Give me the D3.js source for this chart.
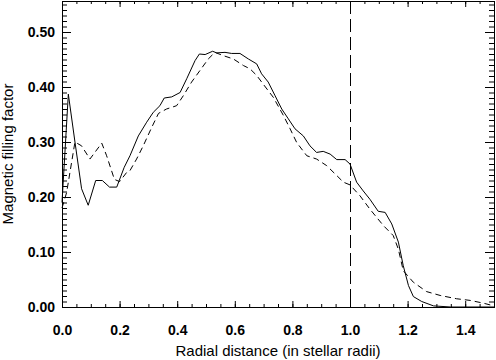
<!DOCTYPE html>
<html>
<head>
<meta charset="utf-8">
<script src="https://cdn.jsdelivr.net/npm/d3@7"></script>
<style>
  body { margin: 0; background: #fff; }
  svg { display: block; }
  .tick text { font-family: "Liberation Sans", Arial, sans-serif; font-size: 14px; font-weight: bold; fill: #000; }
  .title { font-family: "Liberation Sans", Arial, sans-serif; font-size: 15px; fill: #000; }
</style>
</head>
<body>
<div id="chart"></div>
<script>
var width = 496;
var height = 360;

var margin = {top: 1, right: 2, bottom: 53, left: 62};
var chartWidth = width - margin.left - margin.right;
var chartHeight = height - margin.top - margin.bottom;

// solid curve
var solidX = [0, 0.022, 0.045, 0.068, 0.091, 0.117, 0.140, 0.165, 0.19, 0.216, 0.236, 0.265, 0.294, 0.317, 0.34, 0.355,
  0.381, 0.41, 0.433, 0.462, 0.477, 0.497, 0.523, 0.537, 0.566, 0.589, 0.618, 0.647, 0.676, 0.693, 0.716, 0.74,
  0.763, 0.786, 0.809, 0.838, 0.861, 0.884, 0.907, 0.931, 0.954, 0.983, 1.0, 1.023, 1.046, 1.069, 1.098, 1.122,
  1.145, 1.168, 1.185, 1.203, 1.22, 1.249, 1.29, 1.35, 1.5];
var solidY = [0.19, 0.387, 0.30, 0.215, 0.185, 0.23, 0.23, 0.218, 0.218, 0.254, 0.275, 0.311, 0.336, 0.354, 0.366, 0.38,
  0.382, 0.39, 0.415, 0.448, 0.46, 0.459, 0.465, 0.462, 0.463, 0.461, 0.461, 0.451, 0.442, 0.424, 0.409, 0.384,
  0.36, 0.342, 0.324, 0.311, 0.293, 0.281, 0.283, 0.278, 0.268, 0.268, 0.26, 0.227, 0.211, 0.196, 0.174, 0.172,
  0.151, 0.118, 0.075, 0.039, 0.019, 0.01, 0.002, 0, 0];

// dashed curve
var dashX = [0, 0.016, 0.045, 0.068, 0.097, 0.138, 0.155, 0.182, 0.2, 0.225, 0.236, 0.259, 0.282, 0.311, 0.335, 0.363,
  0.398, 0.421, 0.45, 0.479, 0.508, 0.531, 0.56, 0.595, 0.63, 0.653, 0.676, 0.699, 0.734, 0.769, 0.792, 0.815,
  0.85, 0.884, 0.919, 0.954, 0.977, 1.0, 1.035, 1.069, 1.116, 1.15, 1.168, 1.185, 1.22, 1.266, 1.313, 1.37,
  1.417, 1.463, 1.5];
var dashY = [0.18, 0.208, 0.30, 0.293, 0.269, 0.298, 0.275, 0.232, 0.228, 0.245, 0.248, 0.269, 0.293, 0.326, 0.352, 0.36,
  0.366, 0.384, 0.409, 0.43, 0.451, 0.463, 0.457, 0.451, 0.439, 0.433, 0.421, 0.405, 0.381, 0.348, 0.324, 0.299,
  0.275, 0.269, 0.257, 0.239, 0.227, 0.222, 0.202, 0.178, 0.148, 0.13, 0.105, 0.066, 0.045, 0.028, 0.021, 0.015,
  0.012, 0.007, 0.002];

var xMajor = [0, 0.2, 0.4, 0.6, 0.8, 1.0, 1.2, 1.4];
var yMajor = [0, 0.1, 0.2, 0.3, 0.4, 0.5];
var stellarEdge = 1.0;

var xMinor = d3.range(0, 31).map(function (i) { return i * 0.05; });
var yMinor = d3.range(0, 56).map(function (i) { return i * 0.01; });

var svg = d3.select("#chart")
    .append("svg")
    .attr("width", width)
    .attr("height", height)
    .append("g")
        .attr("transform", "translate(" + margin.left + "," + margin.top + ")");

var x = d3.scaleLinear().domain([0, 1.5]).range([0, chartWidth]);
var y = d3.scaleLinear().domain([0, chartHeight / 550]).range([chartHeight, 0]);

function axisGroup(axis, tx, ty) {
  var g = svg.append("g")
    .attr("transform", "translate(" + tx + "," + ty + ")")
    .call(axis);
  g.select(".domain").remove();
  g.selectAll("line").attr("stroke", "#000").attr("stroke-width", 1);
  return g;
}

// bottom / top
axisGroup(d3.axisBottom(x).tickValues(xMinor).tickSize(-3).tickFormat(""), 0, chartHeight);
axisGroup(d3.axisBottom(x).tickValues(xMajor).tickSize(-6).tickPadding(18).tickFormat(d3.format(".1f")), 0, chartHeight);
axisGroup(d3.axisTop(x).tickValues(xMinor).tickSize(-3).tickFormat(""), 0, 0);
axisGroup(d3.axisTop(x).tickValues(xMajor).tickSize(-6).tickFormat(""), 0, 0);

// left / right
axisGroup(d3.axisLeft(y).tickValues(yMinor).tickSize(-5).tickFormat(""), 0, 0);
axisGroup(d3.axisLeft(y).tickValues(yMajor).tickSize(-9).tickPadding(7).tickFormat(d3.format(".2f")), 0, 0);
axisGroup(d3.axisRight(y).tickValues(yMinor).tickSize(-5).tickFormat(""), chartWidth, 0);
axisGroup(d3.axisRight(y).tickValues(yMajor).tickSize(-9).tickFormat(""), chartWidth, 0);

// frame
svg.append("rect")
  .attr("x", 0.5).attr("y", 0.5)
  .attr("width", chartWidth).attr("height", chartHeight)
  .attr("fill", "none").attr("stroke", "#000");

var line = d3.line()
  .x(function (d) { return x(d[0]); })
  .y(function (d) { return y(d[1]); });

svg.append("path")
  .datum(d3.zip(solidX, solidY))
  .attr("d", line)
  .attr("fill", "none")
  .attr("stroke", "#000")
  .attr("stroke-width", 1);

svg.append("path")
  .datum(d3.zip(dashX, dashY))
  .attr("d", line)
  .attr("fill", "none")
  .attr("stroke", "#000")
  .attr("stroke-width", 1)
  .attr("stroke-dasharray", "6,4");

// stellar radius marker
svg.append("line")
  .attr("x1", Math.round(x(stellarEdge)) + 0.5).attr("x2", Math.round(x(stellarEdge)) + 0.5)
  .attr("y1", 0).attr("y2", chartHeight)
  .attr("stroke", "#000")
  .attr("stroke-width", 1)
  .attr("stroke-dasharray", "13,5");

svg.append("text")
  .attr("class", "title")
  .attr("x", chartWidth / 2)
  .attr("y", 356 - margin.top)
  .attr("text-anchor", "middle")
  .text("Radial distance (in stellar radii)");

svg.append("text")
  .attr("class", "title")
  .attr("transform", "translate(" + (13 - margin.left) + "," + (chartHeight / 2) + ") rotate(-90)")
  .attr("text-anchor", "middle")
  .text("Magnetic filling factor");
</script>
</body>
</html>
